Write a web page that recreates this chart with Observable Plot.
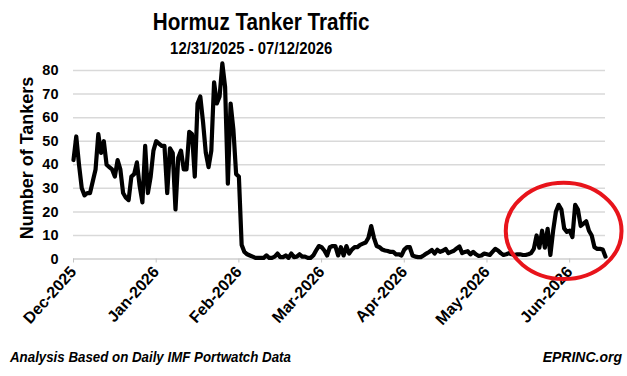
<!DOCTYPE html>
<html>
<head>
<meta charset="utf-8">
<script src="https://cdn.jsdelivr.net/npm/d3@7"></script>
<script src="https://cdn.jsdelivr.net/npm/@observablehq/plot@0.6"></script>
<style>
  html, body { margin: 0; padding: 0; background: #fff; }
  #wrap { position: relative; width: 627px; height: 376px; overflow: hidden; font-family: Arial, "Liberation Sans", sans-serif; color: #000; }
  .t { position: absolute; font-weight: bold; white-space: nowrap; }
  #chart { position: absolute; left: 0; top: 56px; }
</style>
</head>
<body>
<div id="wrap">
  <div class="t" id="title" style="left:0;width:523px;top:11px;text-align:center;font-size:23.5px;line-height:23.5px;"><span style="display:inline-block;transform:scaleX(0.88);">Hormuz Tanker Traffic</span></div>
  <div class="t" id="subtitle" style="left:0;width:502px;top:40.5px;text-align:center;font-size:16px;line-height:16px;"><span style="display:inline-block;transform:scaleX(0.93);">12/31/2025 - 07/12/2026</span></div>
  <div class="t" id="ytitle" style="left:27px;top:158px;font-size:18px;line-height:18px;transform:translate(-50%,-50%) rotate(-90deg);">Number of Tankers</div>
  <div id="chart"></div>
  <div class="t" id="source" style="left:10px;top:350px;font-size:14px;line-height:14px;font-style:italic;transform-origin:left center;transform:scaleX(0.95);">Analysis Based on Daily IMF Portwatch Data</div>
  <div class="t" id="brand" style="right:5px;top:350px;font-size:14px;line-height:14px;font-style:italic;">EPRINC.org</div>
</div>
<script>
const startDate = "2025-12-31";
const tankers = [
  42, 52, 40, 30, 27, 28, 28, 33, 38, 53,
  45, 50, 40, 39, 38, 35, 42, 38, 28, 26,
  25, 35, 36, 41, 31, 24, 48, 28, 35, 46,
  50, 49, 48, 48, 28, 47, 45, 21, 43, 46,
  38, 38, 54, 53, 35, 66, 69, 58, 45, 39,
  46, 75, 66, 69, 83, 73, 32, 66, 55, 36,
  35, 6, 3, 2, 1.5, 1, 0.5, 0.5, 0.5, 0.5,
  1.5, 0.5, 0.5, 1, 2.3, 0.8, 0.8, 1.5, 0.5, 2.3,
  0.8, 1, 2, 1, 1, 0.5, 0.5, 1.5, 3.6, 5.5,
  5, 3.6, 1.5, 5, 5.5, 5.5, 1.5, 5, 1.5, 5.5,
  2.3, 4, 5, 5, 6, 6.5, 7, 9, 14, 9,
  5.5, 5, 4, 3.6, 3.4, 3, 3, 2, 2, 1.5,
  4, 5, 5, 1.5, 1, 0.8, 0.8, 1.5, 2.3, 3,
  3.8, 2.3, 3.9, 3, 3.5, 4.3, 2.5, 3, 3.5, 4.5,
  5.3, 2.5, 3, 3.3, 2, 3, 2, 1.3, 1.5, 2.3,
  2, 1.7, 3, 4.3, 3.6, 2.5, 1.7, 2, 2.5, 2,
  1.7, 2, 2, 1.7, 1.7, 2, 2.5, 4.3, 10, 4.8,
  12, 4.8, 12.8, 1.7, 12, 20, 23, 21, 13, 11.5,
  12, 9.3, 23, 21, 14, 15, 16, 12, 10, 5,
  4.3, 4.3, 4, 1
];
const tickDates = ["2025-12-31", "2026-01-30", "2026-03-01", "2026-03-31", "2026-04-30", "2026-05-30", "2026-06-29"];
const tickLabels = ["Dec-2025", "Jan-2026", "Feb-2026", "Mar-2026", "Apr-2026", "May-2026", "Jun-2026"];
const yTicks = [0, 10, 20, 30, 40, 50, 60, 70, 80];
const highlightWindow = ["2026-06-06", "2026-07-18"];
const highlightRange = [-8.7, 32.1];

const parse = s => new Date(s + "T00:00:00Z");
const start = parse(startDate);
const data = tankers.map((v, i) => ({date: d3.utcDay.offset(start, i), value: v}));
const tickDateObjs = tickDates.map(parse);
const labelFor = d => tickLabels[tickDates.indexOf(d3.utcFormat("%Y-%m-%d")(d))];

const ellipseMark = (index, scales) => {
  const x1 = scales.x(parse(highlightWindow[0])), x2 = scales.x(parse(highlightWindow[1]));
  const y1 = scales.y(highlightRange[0]), y2 = scales.y(highlightRange[1]);
  return d3.create("svg:ellipse")
    .attr("cx", (x1 + x2) / 2).attr("cy", (y1 + y2) / 2)
    .attr("rx", Math.abs(x2 - x1) / 2).attr("ry", Math.abs(y2 - y1) / 2)
    .attr("fill", "none").attr("stroke", "#e8141b").attr("stroke-width", 4)
    .node();
};

const chart = Plot.plot({
  width: 627,
  height: 290,
  marginLeft: 73,
  marginRight: 22,
  marginTop: 14,
  marginBottom: 87.5,
  style: {fontFamily: "Arial, 'Liberation Sans', sans-serif", fontWeight: "bold", fontSize: "14px", color: "#000", background: "transparent", overflow: "visible"},
  x: {type: "utc", domain: [start, d3.utcDay.offset(start, tankers.length - 1)]},
  y: {domain: [0, 80]},
  marks: [
    Plot.gridY(yTicks.filter(d => d > 0), {stroke: "#d9d9d9", strokeOpacity: 1, strokeWidth: 1.5}),
    Plot.ruleY([0], {stroke: "#cfcfcf", strokeWidth: 1.5}),
    Plot.axisY(yTicks, {tickSize: 0, tickPadding: 15, label: null, fontSize: 14.5, fontWeight: "bold"}),
    Plot.axisX(tickDateObjs, {tickFormat: labelFor, tickRotate: -48, tickSize: 4, tickPadding: 6, stroke: "#c4c4c4", fill: "#000", label: null, fontSize: 16, fontWeight: "bold"}),
    Plot.lineY(data, {x: "date", y: "value", stroke: "#000", strokeWidth: 4.2, strokeLinejoin: "round"}),
    ellipseMark
  ]
});
document.getElementById("chart").appendChild(chart);
</script>
</body>
</html>
